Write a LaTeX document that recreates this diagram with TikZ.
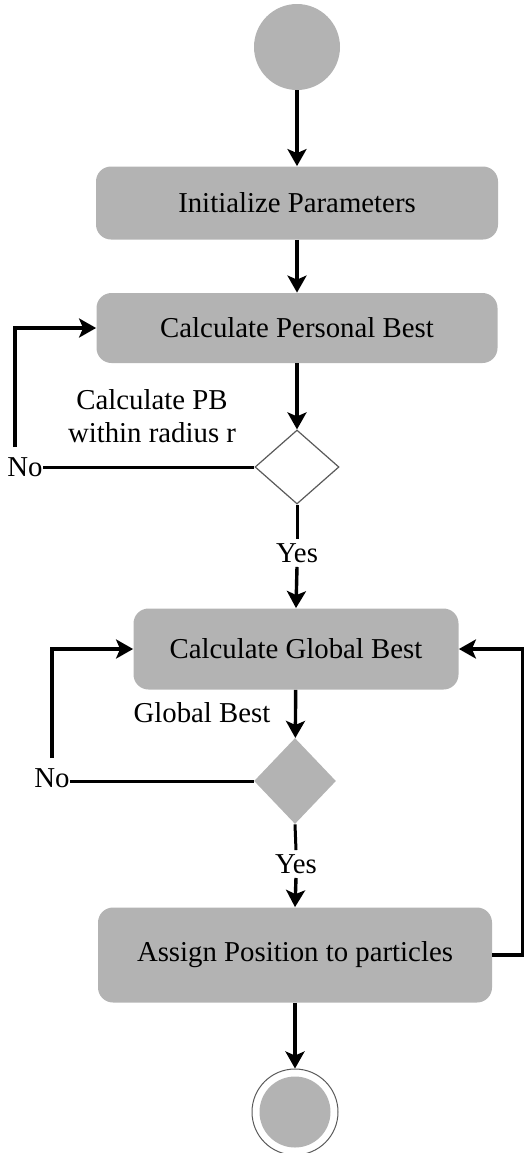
\documentclass[tikz,border=0pt]{standalone}
\usepackage{fontspec}
\setmainfont{Liberation Serif}
\usepackage{tikz}
\usetikzlibrary{arrows.meta, shapes.geometric, positioning, calc}

\definecolor{actgray}{RGB}{179,179,179}
\definecolor{edgegray}{RGB}{90,90,90}

\begin{document}
\begin{tikzpicture}[x=0.5pt, y=-0.5pt,
  every node/.style={font=\fontsize{14.4}{16.5}\selectfont},
  activity/.style={rectangle, rounded corners=7.5pt, fill=actgray, inner sep=0pt},
  decision/.style={diamond, inner sep=0pt, minimum width=42pt, minimum height=37pt},
  startnode/.style={circle, fill=actgray, inner sep=0pt, minimum size=43pt},
  endring/.style={circle, draw=edgegray, line width=0.5pt, fill=white, inner sep=0pt, minimum size=43pt},
  lbl/.style={inner sep=0pt, align=center},
  arr/.style={-{Stealth[length=8.5pt, width=9.5pt, inset=2pt]}, line width=1.7pt},
  flow/.style={line width=1.5pt}]
\useasboundingbox (0,0) rectangle (528,1153);

% Start and end
\node[startnode] (start) at (297,47) {};
\node[endring] (stop) at (295,1112) {};
\node[startnode, minimum size=35.5pt] (stopdot) at (stop) {};

% Activities
\node[activity, minimum width=201pt, minimum height=36.5pt] (init) at (297,203) {Initialize Parameters};
\node[activity, minimum width=200.5pt, minimum height=35pt] (pbest) at (297,328) {Calculate Personal Best};
\node[activity, minimum width=162.5pt, minimum height=40.5pt] (gbest) at (296,649) {Calculate Global Best};
\node[activity, minimum width=197pt, minimum height=47.5pt] (assign) at (295,955) {Assign Position to particles};

% Decisions
\node[decision, draw=edgegray, line width=0.6pt, fill=white] (dec1) at (297,467) {};
\node[decision, fill=actgray, minimum width=41pt, minimum height=43pt] (dec2) at (295,781) {};

% Labels
\node[lbl] (pblabel) at (152,416) {Calculate PB\\within radius r};
\node[lbl] (gblabel) at (202,713) {Global Best};
\node[lbl] (no1) at (25,467) {No};
\node[lbl] (no2) at (52,778) {No};
\node[lbl] (yes1) at (297,553) {Yes};
\node[lbl] (yes2) at (296,864) {Yes};
\coordinate (up1) at (15,447);
\coordinate (up2) at (52,758);

% Main flow
\draw[arr] (start) -- (init);
\draw[arr] (init) -- (pbest);
\draw[arr] (pbest) -- (dec1);
\draw[flow] (dec1.south) -- ($(yes1.north)+(0,-4)$);
\draw[arr] ($(yes1.south)+(0,4)$) -- (gbest.north);
\draw[arr] (gbest) -- (dec2);
\draw[flow] (dec2.south) -- ($(yes2.north)+(0,-4)$);
\draw[arr] ($(yes2.south)+(0,4)$) -- (assign.north);
\draw[arr] (assign) -- (stop);

% Loops back
\draw[flow] (dec1.west) -- (dec1.west -| no1.east);
\draw[arr] (up1) |- (pbest.west);
\draw[flow] (dec2.west) -- (dec2.west -| no2.east);
\draw[arr] (up2) |- (gbest.west);
\draw[arr] (assign.east) -- ++(30,0) |- (gbest.east);
\end{tikzpicture}
\end{document}
